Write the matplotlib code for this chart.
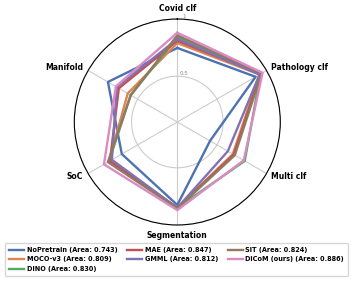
import numpy as np
import matplotlib
matplotlib.use("Agg")
import matplotlib.pyplot as plt

categories = ["Covid clf", "Pathology clf", "Multi clf", "Segmentation", "SoC", "Manifold"]
methods = ["NoPretrain", "MOCO-v3", "DINO", "MAE", "GMML", "SiT", "DiCoM (ours)"]
areas = [0.743, 0.809, 0.830, 0.847, 0.812, 0.824, 0.886]

nopretrain = [0.747, 0.89, 0.43, 0.825, 0.66, 0.80]
moco = [0.79, 0.93, 0.66, 0.85, 0.79, 0.60]
dino = [0.84, 0.94, 0.78, 0.85, 0.79, 0.57]
mae = [0.81, 0.94, 0.67, 0.85, 0.78, 0.69]
gmml = [0.825, 0.93, 0.61, 0.85, 0.76, 0.71]
sit = [0.857, 0.95, 0.68, 0.855, 0.80, 0.57]
dicom = [0.88, 0.96, 0.77, 0.87, 0.84, 0.72]
series = [nopretrain, moco, dino, mae, gmml, sit, dicom]

colors = ["#4C72B0", "#DD8452", "#55A868", "#C44E52", "#8172B3", "#937860", "#DA8BC3"]

fig = plt.figure(figsize=(3.53, 2.82), dpi=100)
ax = fig.add_axes([0.2105, 0.2021, 0.5836, 0.7305], projection="polar")
ax.set_theta_offset(np.pi / 2)
ax.set_theta_direction(-1)

n = len(categories)
angles = np.linspace(0, 2 * np.pi, n, endpoint=False)
closed = np.concatenate([angles, angles[:1]])

for vals, name, area, c in zip(series, methods, areas, colors):
    v = list(vals) + [vals[0]]
    ax.plot(closed, v, color=c, lw=1.7, label=f"{name} (Area: {area:.3f})")

ax.set_ylim(0.1, 1.0)
ax.set_rticks([0.5, 1.0])
ax.set_yticklabels(["0.5", "1"], fontsize=4, color="#888888")
ax.set_rlabel_position(3)
ax.set_xticks(angles)
ax.set_xticklabels([])
ax.tick_params(axis="x", length=0)
ax.grid(True, color="#cccccc", lw=0.8)
ax.spines["polar"].set_color("black")
ax.spines["polar"].set_linewidth(0.8)

pad = 4
for ang, lab in zip(angles, categories):
    deg = np.degrees(ang) % 360
    dx = pad * np.sin(ang)
    dy = pad * np.cos(ang)
    if deg < 1 or deg > 359:
        ha, va = "center", "bottom"
    elif abs(deg - 180) < 1:
        ha, va = "center", "top"
    elif deg < 180:
        ha, va = "left", "center"
    else:
        ha, va = "right", "center"
    ax.annotate(lab, xy=(ang, 1.0), xytext=(dx, dy), textcoords="offset points",
                ha=ha, va=va, fontsize=5.5, fontweight="bold", annotation_clip=False)

leg = fig.legend(loc="lower center", bbox_to_anchor=(0.5, 0.01), ncol=3,
                 prop={"size": 4.7, "weight": "bold"}, handlelength=2.3,
                 handletextpad=0.4, columnspacing=1.5, labelspacing=0.55,
                 borderpad=0.6, frameon=True, edgecolor="#cccccc")

fig.savefig("out.png", dpi=100)
